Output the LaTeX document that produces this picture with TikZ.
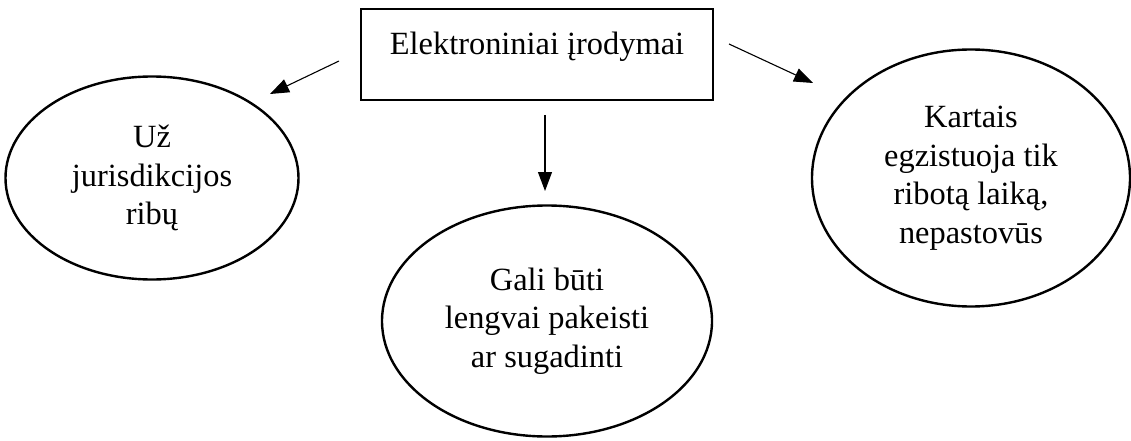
\documentclass[tikz,border=0pt]{standalone}
\usepackage{fontspec}
\setmainfont{Liberation Serif}
\usetikzlibrary{shapes.geometric,arrows.meta}
\begin{document}
\begin{tikzpicture}[x=1pt,y=-1pt,
  txt/.style={font={\fontsize{32.4}{38.5}\selectfont},align=center},
  bubble/.style={draw,ellipse,line width=2.4pt,inner sep=0pt,txt},
  titlebox/.style={draw,rectangle,line width=2.4pt,inner sep=0pt,txt},
  arr/.style={line width=1.1pt,-{Triangle[length=19pt,width=14pt]}}]
\useasboundingbox (0,0) rectangle (1131,441);
\node[titlebox,minimum width=352pt,minimum height=91pt,text height=22pt,text depth=22pt] (box) at (537,54.5) {Elektroniniai įrodymai};
\node[bubble,minimum width=293pt,minimum height=203pt] (left) at (152,178) {Už\\jurisdikcijos\\ribų};
\node[bubble,minimum width=330pt,minimum height=231pt] (mid) at (547,321) {Gali būti\\lengvai pakeisti\\ar sugadinti};
\node[bubble,minimum width=318pt,minimum height=257pt] (right) at (971,178) {Kartais\\egzistuoja tik\\ribotą laiką,\\nepastovūs};
\coordinate (la) at (339,61);
\coordinate (lb) at (270,94);
\coordinate (ma) at (545,115);
\coordinate (mb) at (545,191);
\coordinate (ra) at (729,44);
\coordinate (rb) at (813,83);
\draw[arr] (la) -- (lb);
\draw[arr] (ma) -- (mb);
\draw[arr] (ra) -- (rb);
\end{tikzpicture}
\end{document}
